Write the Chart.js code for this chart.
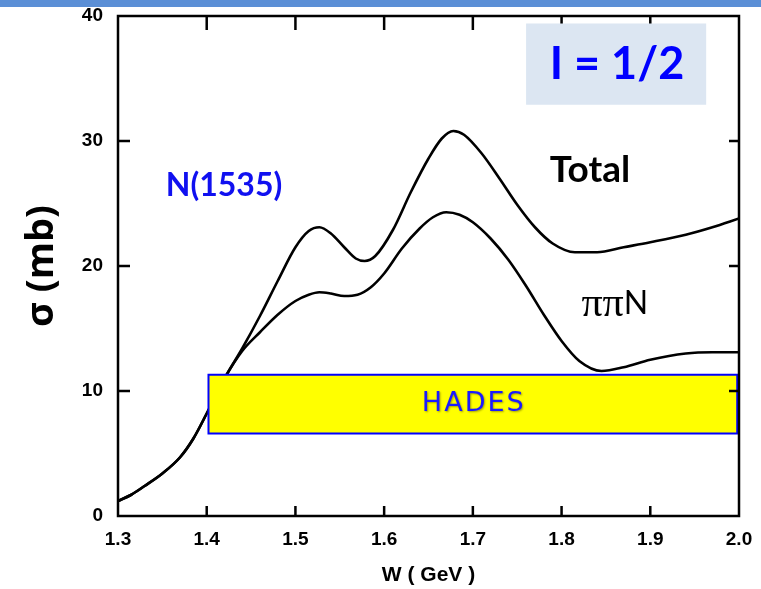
<!DOCTYPE html>
<html>
<head>
<meta charset="utf-8">
<script src="https://cdn.jsdelivr.net/npm/chart.js@4.4.1/dist/chart.umd.min.js"></script>
<style>
  html, body { margin: 0; padding: 0; background: #fff; }
  canvas { display: block; }
</style>
</head>
<body>
<canvas id="chart" width="761" height="589"></canvas>
<script>
// pi N, I = 1/2 cross sections
const wTotal = [1.30, 1.315, 1.33, 1.35, 1.37, 1.385, 1.40, 1.42, 1.44, 1.46, 1.48, 1.50, 1.515, 1.527,
  1.54, 1.555, 1.568, 1.578, 1.59, 1.61, 1.63, 1.65, 1.665, 1.678, 1.69, 1.71, 1.73, 1.75, 1.77,
  1.79, 1.815, 1.84, 1.87, 1.90, 1.94, 1.97, 2.00];
const sigmaTotal = [1.2, 1.7, 2.4, 3.4, 4.7, 6.2, 8.2, 11.0, 13.4, 16.0, 18.8, 21.5, 22.8, 23.1,
  22.6, 21.5, 20.6, 20.4, 20.8, 22.9, 25.9, 28.6, 30.2, 30.8, 30.5, 29.0, 27.0, 24.9, 23.1,
  21.8, 21.1, 21.1, 21.5, 21.9, 22.5, 23.1, 23.8];

const wPiPiN = [1.30, 1.315, 1.33, 1.35, 1.37, 1.385, 1.40, 1.42, 1.44, 1.46, 1.48, 1.50, 1.515, 1.527,
  1.54, 1.555, 1.57, 1.585, 1.60, 1.62, 1.64, 1.655, 1.67, 1.685, 1.70, 1.72, 1.74, 1.76, 1.78,
  1.80, 1.82, 1.845, 1.87, 1.90, 1.94, 1.97, 2.00];
const sigmaPiPiN = [1.2, 1.7, 2.4, 3.4, 4.7, 6.2, 8.2, 11.0, 13.2, 14.7, 16.1, 17.2, 17.7, 17.9,
  17.8, 17.6, 17.7, 18.3, 19.4, 21.4, 23.0, 23.9, 24.3, 24.1, 23.5, 22.2, 20.5, 18.4, 16.1,
  14.0, 12.4, 11.6, 11.9, 12.5, 13.0, 13.1, 13.1];

const xTicks = [1.3, 1.4, 1.5, 1.6, 1.7, 1.8, 1.9, 2.0];
const yTicks = [0, 10, 20, 30, 40];

// HADES energy window
const hadesW = [1.402, 1.998];
const hadesSigma = [6.6, 11.3];

function toPoints(xs, ys) {
  return xs.map((v, i) => ({ x: v, y: ys[i] }));
}

const overlay = {
  id: 'overlay',
  beforeDraw(chart) {
    const ctx = chart.ctx;
    ctx.save();
    ctx.fillStyle = '#fff';
    ctx.fillRect(0, 0, chart.width, chart.height);
    ctx.restore();
  },
  afterDatasetsDraw(chart) {
    const { ctx, chartArea: a, scales: { x, y } } = chart;
    ctx.save();

    // HADES band
    const bx0 = x.getPixelForValue(hadesW[0]);
    const bx1 = x.getPixelForValue(hadesW[1]);
    const by0 = y.getPixelForValue(hadesSigma[1]);
    const by1 = y.getPixelForValue(hadesSigma[0]);
    ctx.fillStyle = '#ffff00';
    ctx.fillRect(bx0, by0, bx1 - bx0, by1 - by0);
    ctx.strokeStyle = '#0000ff';
    ctx.lineWidth = 2;
    ctx.strokeRect(bx0, by0, bx1 - bx0, by1 - by0);

    ctx.textAlign = 'center';
    ctx.textBaseline = 'middle';
    ctx.save();
    ctx.shadowColor = 'rgba(0,0,0,0.35)';
    ctx.shadowOffsetX = 1;
    ctx.shadowOffsetY = 1;
    ctx.shadowBlur = 2;
    ctx.fillStyle = '#1a1aff';
    ctx.font = '27px "DejaVu Sans"';
    ctx.letterSpacing = '2px';
    ctx.fillText('HADES', x.getPixelForValue(1.701), y.getPixelForValue(9.0));
    ctx.restore();

    // frame
    ctx.strokeStyle = '#000';
    ctx.lineWidth = 2.5;
    ctx.strokeRect(a.left, a.top, a.right - a.left, a.bottom - a.top);

    // inner tick marks
    ctx.beginPath();
    xTicks.slice(1, -1).forEach(v => {
      const px = x.getPixelForValue(v);
      ctx.moveTo(px, a.bottom); ctx.lineTo(px, a.bottom - 10);
      ctx.moveTo(px, a.top); ctx.lineTo(px, a.top + 14);
    });
    yTicks.slice(1, -1).forEach(v => {
      const py = y.getPixelForValue(v);
      ctx.moveTo(a.left, py); ctx.lineTo(a.left + 12, py);
      ctx.moveTo(a.right, py); ctx.lineTo(a.right - 10, py);
    });
    ctx.stroke();

    // I = 1/2 box
    const ix0 = x.getPixelForValue(1.760), ix1 = x.getPixelForValue(1.963);
    const iy0 = y.getPixelForValue(39.4), iy1 = y.getPixelForValue(32.9);
    ctx.fillStyle = '#dce6f2';
    ctx.fillRect(ix0, iy0, ix1 - ix0, iy1 - iy0);
    ctx.fillStyle = '#0000ff';
    ctx.font = 'bold 45px Lato';
    ctx.fillText('I = 1/2', x.getPixelForValue(1.8625), y.getPixelForValue(36.1));

    // curve labels
    ctx.fillStyle = '#1010f0';
    ctx.font = 'bold 32px Lato';
    ctx.fillText('N(1535)', x.getPixelForValue(1.4195), y.getPixelForValue(26.4));

    ctx.fillStyle = '#000';
    ctx.font = 'bold 37px Lato';
    ctx.fillText('Total', x.getPixelForValue(1.832), y.getPixelForValue(27.7));

    const cx = x.getPixelForValue(1.860), cy = y.getPixelForValue(17.0);
    ctx.font = '42px "Liberation Serif"';
    const wPi = ctx.measureText('\u03c0\u03c0').width;
    ctx.font = '32px Lato';
    const wN = ctx.measureText('N').width;
    const start = cx - (wPi + wN) / 2;
    ctx.textAlign = 'left';
    ctx.font = '42px "Liberation Serif"';
    ctx.fillText('\u03c0\u03c0', start, cy + 1);
    ctx.font = '32px Lato';
    ctx.fillText('N', start + wPi, cy);

    ctx.restore();
  },
  afterDraw(chart) {
    const ctx = chart.ctx;
    ctx.save();
    ctx.fillStyle = '#5b8fd6';
    ctx.fillRect(0, 0, chart.width, 7);
    ctx.restore();
  }
};

new Chart(document.getElementById('chart'), {
  type: 'line',
  data: {
    datasets: [{
      label: 'Total',
      data: toPoints(wTotal, sigmaTotal),
      borderColor: '#000',
      borderWidth: 2.6,
      pointRadius: 0,
      cubicInterpolationMode: 'monotone'
    }, {
      label: 'ππN',
      data: toPoints(wPiPiN, sigmaPiPiN),
      borderColor: '#000',
      borderWidth: 2.6,
      pointRadius: 0,
      cubicInterpolationMode: 'monotone'
    }]
  },
  options: {
    responsive: false,
    animation: false,
    layout: { padding: { top: 16, right: 22, left: 0, bottom: 0 } },
    plugins: {
      legend: { display: false },
      tooltip: { enabled: false }
    },
    scales: {
      x: {
        type: 'linear',
        min: 1.3,
        max: 2.0,
        afterFit: (scale) => {
          scale.height = 73;
          scale.paddingLeft = 0;
          scale.paddingRight = 0;
        },
        afterBuildTicks: (scale) => { scale.ticks = xTicks.map(v => ({ value: v })); },
        grid: { display: false, drawTicks: false },
        border: { display: false },
        ticks: {
          autoSkip: false,
          maxRotation: 0,
          padding: 12,
          color: '#000',
          font: { family: 'Liberation Sans', weight: 'bold', size: 19 },
          callback: (v) => Number(v).toFixed(1)
        },
        title: {
          display: true,
          text: 'W ( GeV )',
          color: '#000',
          font: { family: 'Liberation Sans', weight: 'bold', size: 21 },
          padding: { top: 0, bottom: 1 }
        }
      },
      y: {
        min: 0,
        max: 40,
        afterFit: (scale) => {
          scale.width = 118;
          scale.paddingTop = 0;
          scale.paddingBottom = 0;
        },
        afterBuildTicks: (scale) => { scale.ticks = yTicks.map(v => ({ value: v })); },
        grid: { display: false, drawTicks: false },
        border: { display: false },
        ticks: {
          padding: 15,
          color: '#000',
          font: { family: 'Liberation Sans', weight: 'bold', size: 19 }
        },
        title: {
          display: true,
          text: 'σ (mb)',
          color: '#000',
          font: { family: 'Open Sans', weight: 'bold', size: 38 },
          padding: { top: 19, bottom: 0 }
        }
      }
    }
  },
  plugins: [overlay]
});
</script>
</body>
</html>
